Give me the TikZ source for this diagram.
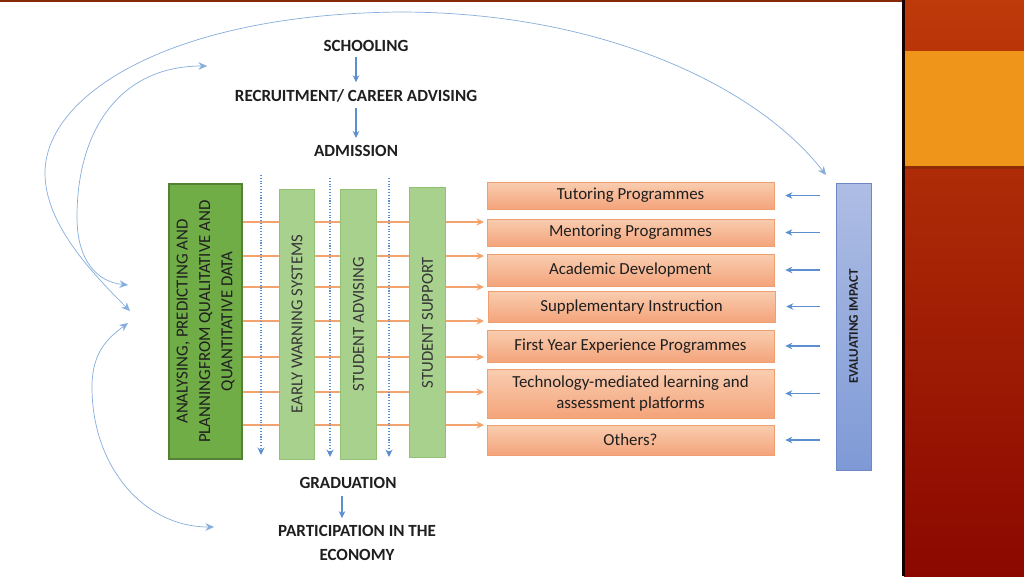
\documentclass[tikz,border=0pt]{standalone}
\usepackage{fontspec}
\setmainfont{Carlito}
\usepackage{xcolor}
\usetikzlibrary{arrows.meta,positioning,shadings}
\definecolor{headtext}{HTML}{1F1F1F}
\definecolor{darkgreen}{HTML}{70AD47}
\definecolor{darkgreenline}{HTML}{548235}
\definecolor{lightgreen}{HTML}{A9D18E}
\definecolor{lightgreenline}{HTML}{93C174}
\definecolor{peachtop}{HTML}{F9CDB0}
\definecolor{peachbottom}{HTML}{F4A47B}
\definecolor{peachline}{HTML}{F0A070}
\definecolor{orangeline}{HTML}{F2A36E}
\definecolor{linkblue}{HTML}{5B8FD0}
\definecolor{curveblue}{HTML}{86AEDC}
\definecolor{evaltop}{HTML}{AEBDE4}
\definecolor{evalbottom}{HTML}{7E9AD6}
\definecolor{evalline}{HTML}{6F87C6}
\definecolor{slidetop}{HTML}{BE3A0A}
\definecolor{slidebottom}{HTML}{8A0800}
\definecolor{slideorange}{HTML}{EE951A}
\newcommand{\boxfont}{\fontsize{9.6}{11.8}\selectfont}

\begin{document}
\begin{tikzpicture}[
    x=0.02cm, y=-0.02cm,
    stage/.style={font=\fontsize{9.7}{13.5}\selectfont\bfseries, text=headtext, align=center, inner sep=1pt},
    databox/.style={rectangle, draw=darkgreenline, fill=darkgreen, thick, minimum width=1.46cm, minimum height=5.5cm, inner sep=0pt, text=headtext},
    pillar/.style={rectangle, draw=lightgreenline, fill=lightgreen, minimum width=0.71cm, minimum height=5.4cm, inner sep=0pt, text=headtext!90},
    programme/.style={rectangle, draw=peachline, top color=peachtop, bottom color=peachbottom, minimum width=5.74cm, align=center, inner sep=1pt, text=headtext, font=\boxfont},
    flow/.style={-{Stealth[length=1.4mm,width=1.3mm]}, linkblue, semithick},
    feedback/.style={{Stealth[length=1.7mm,width=1.5mm]}-{Stealth[length=1.7mm,width=1.5mm]}, curveblue, thin},
    pathway/.style={-{Stealth[length=1.5mm,width=1.4mm]}, linkblue, densely dotted, semithick},
    supply/.style={-{Stealth[length=1.5mm,width=1.4mm]}, orangeline, semithick}
]
    \useasboundingbox (0,0) rectangle (1024,576);
    % slide frame
    \fill[white] (0,0) rectangle (904,576);
    \fill[slidetop!70!black] (0,0) rectangle (904,2);
    \shade[top color=slidetop, bottom color=slidebottom] (904,0) rectangle (1024,576);
    \fill[black!25!slidetop] (904,166) rectangle (1024,169);
    \fill[slideorange] (905,51) rectangle (1024,166);
    \draw[black!85!slidebottom, line width=1.2pt] (903.5,0) -- (903.5,576);

    % entry stages
    \node[stage] (schooling) at (366,46) {SCHOOLING};
    \node[stage] (recruit) at (356,96) {RECRUITMENT/ CAREER ADVISING};
    \node[stage] (admission) at (356,151) {ADMISSION};
    \draw[flow, shorten <=2pt, shorten >=3pt] (recruit.north |- schooling.south) -- (recruit.north);
    \draw[flow, shorten <=2pt, shorten >=3pt] (recruit.south) -- (recruit.south |- admission.north);

    % data and support pillars
    \node[databox, font=\fontsize{9.6}{12.8}\selectfont] (ana) at (205.5,321.5)
        {\rotatebox{90}{\begin{tabular}{@{}c@{}}ANALYSING, PREDICTING AND\\PLANNINGFROM QUALITATIVE AND\\QUANTITATIVE DATA\end{tabular}}};
    \foreach \i/\y in {1/222,2/256,3/287,4/321,5/357,6/392,7/425} {
        \coordinate (o\i) at (484,\y);
        \draw[supply] (ana.east |- o\i) -- (o\i);
    }
    \node[pillar, font=\fontsize{9.5}{11}\selectfont] (early) at (297,324) {\rotatebox{90}{EARLY WARNING SYSTEMS}};
    \node[pillar, font=\fontsize{9.5}{11}\selectfont] (advis) at (358.5,324) {\rotatebox{90}{STUDENT ADVISING}};
    \node[pillar, font=\fontsize{9.5}{11}\selectfont] (support) at (427.5,322.5) {\rotatebox{90}{STUDENT SUPPORT}};

    \coordinate (p1top) at (261,175);
    \coordinate (p1end) at (261,455);
    \coordinate (p2top) at (330,178);
    \coordinate (p2end) at (330,457);
    \coordinate (p3top) at (389,178);
    \coordinate (p3end) at (389,457);
    \draw[pathway] (p1top) -- (p1end);
    \draw[pathway] (p2top) -- (p2end);
    \draw[pathway] (p3top) -- (p3end);

    % programmes
    \node[programme, minimum height=0.54cm] (tutor) at (630.5,195.5) {Tutoring Programmes};
    \node[programme, minimum height=0.54cm] (mentor) at (630.5,232.5) {Mentoring Programmes};
    \node[programme, minimum height=0.64cm] (acad) at (630.5,270) {Academic Development};
    \node[programme, minimum height=0.62cm] (suppl) at (631.5,306.5) {Supplementary Instruction};
    \node[programme, minimum height=0.64cm] (fye) at (630.5,346) {First Year Experience Programmes};
    \node[programme, minimum height=0.98cm, font=\fontsize{9.6}{12}\selectfont] (tech) at (630.5,393.5) {Technology-mediated learning and\\assessment platforms};
    \node[programme, minimum height=0.6cm] (others) at (630.5,440) {Others?};

    % evaluation
    \node[rectangle, draw=evalline, top color=evaltop, bottom color=evalbottom, minimum width=0.7cm, minimum height=5.74cm, inner sep=0pt, text=headtext, font=\fontsize{7.5}{9}\selectfont\bfseries] (evalimp) at (853.5,326.5) {\rotatebox{90}{EVALUATING IMPACT}};
    \foreach \n in {tutor,mentor,acad,suppl,fye,tech,others}
        \draw[flow, shorten <=0.32cm, shorten >=0.22cm] (evalimp.west |- \n.east) -- (\n.east);

    % exit stages
    \node[stage] (grad) at (348,483) {GRADUATION};
    \node[stage] (econ) at (357,543) {PARTICIPATION IN THE\\ECONOMY};
    \draw[flow, shorten <=3pt, shorten >=3pt] ([xshift=-0.12cm]grad.south) -- ([xshift=-0.12cm]grad.south |- econ.north);

    % feedback loops
    \coordinate (fbouter) at (130,311);
    \coordinate (fbeval) at (826,175);
    \coordinate (fbinner) at (128,285);
    \coordinate (fbrecruit) at (207,66);
    \coordinate (fblower) at (128,323);
    \coordinate (fbecon) at (214,527);
    \draw[feedback] (fbouter) .. controls (90,271) and (45,223) .. (45,173)
        .. controls (45,95) and (170,14) .. (400,12)
        .. controls (600,12) and (756,85) .. (fbeval);
    \draw[feedback] (fbinner) .. controls (98,282) and (77,262) .. (77,217)
        .. controls (77,130) and (120,66) .. (fbrecruit);
    \draw[feedback] (fblower) .. controls (108,338) and (92,352) .. (92,387)
        .. controls (92,467) and (144,527) .. (fbecon);
\end{tikzpicture}
\end{document}
